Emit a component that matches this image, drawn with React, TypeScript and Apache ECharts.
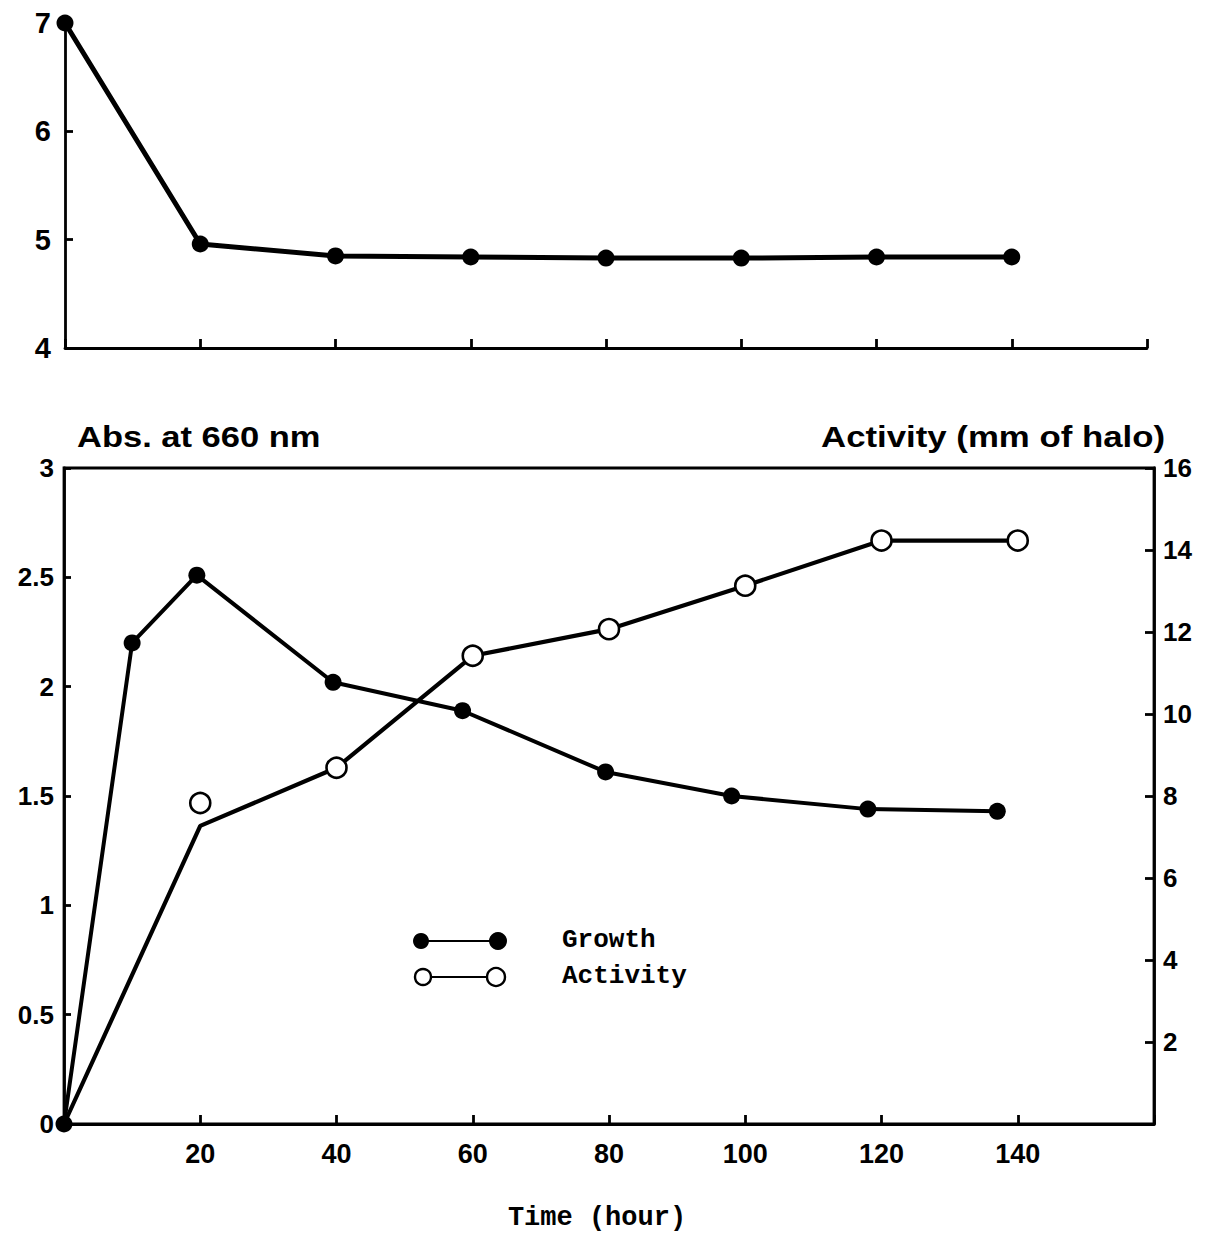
import React, { useEffect, useRef } from "react";
import * as echarts from "echarts";

// Top panel (pH-like trace)
const topTime = [0, 20, 40, 60, 80, 100, 120, 140];
const topValues = [7, 4.96, 4.85, 4.84, 4.83, 4.83, 4.84, 4.84];

// Bottom panel: growth (Abs. at 660 nm)
const growthTime = [0, 10, 19.5, 39.5, 58.5, 79.5, 98, 118, 137];
const growthAbs = [0, 2.2, 2.51, 2.02, 1.89, 1.61, 1.5, 1.44, 1.43];

// Bottom panel: activity (mm of halo) – drawn line and measured circles
const activityLineTime = [0, 20, 40, 60, 80, 100, 120, 140];
const activityLineValue = [0, 7.27, 8.69, 11.42, 12.07, 13.13, 14.23, 14.23];
const activityPointTime = [20, 40, 60, 80, 100, 120, 140];
const activityPointValue = [7.83, 8.69, 11.42, 12.07, 13.13, 14.23, 14.23];

const xHiddenLabels = [0, 160];

const zip = (a: number[], b: number[]) => a.map((v, i) => [v, b[i]]);

const SANS = '"Liberation Sans", Arial, sans-serif';
const MONO = '"Liberation Mono", "DejaVu Sans Mono", monospace';

export default function App() {
  const ref = useRef<HTMLDivElement>(null);

  useEffect(() => {
    document.body.style.margin = "0";
    const chart = echarts.init(ref.current!, null, { renderer: "svg" });

    const axisLine = { show: true, lineStyle: { color: "#000", width: 2.8 } };
    const tick = (len: number) => ({
      show: true,
      inside: true,
      length: len,
      lineStyle: { color: "#000", width: 2.8 },
    });
    const yLabel = {
      color: "#000",
      fontFamily: SANS,
      fontWeight: "bold" as const,
      fontSize: 26,
    };

    chart.setOption({
      animation: false,
      backgroundColor: "#fff",
      grid: [
        { left: 65, top: 23, width: 1082, height: 325, show: false },
        {
          left: 64,
          top: 468,
          width: 1090,
          height: 666,
          show: true,
          borderColor: "#000",
          borderWidth: 2.8,
        },
      ],
      xAxis: [
        {
          gridIndex: 0,
          type: "value",
          min: 0,
          max: 160,
          interval: 20,
          axisLine,
          axisTick: tick(9),
          axisLabel: { show: false },
          splitLine: { show: false },
        },
        {
          gridIndex: 1,
          type: "value",
          min: 0,
          max: 160,
          interval: 20,
          axisLine,
          axisTick: tick(9),
          axisLabel: {
            color: "#000",
            fontFamily: SANS,
            fontWeight: "bold",
            fontSize: 27,
            margin: 16,
            formatter: (v: number) => (xHiddenLabels.includes(v) ? "" : String(v)),
          },
          splitLine: { show: false },
          name: "Time (hour)",
          nameLocation: "middle",
          nameGap: 80,
          nameTextStyle: {
            color: "#000",
            fontFamily: MONO,
            fontWeight: "bold",
            fontSize: 27,
            padding: [0, 24, 0, 0],
          },
        },
      ],
      yAxis: [
        {
          gridIndex: 0,
          type: "value",
          min: 4,
          max: 7,
          interval: 1,
          axisLine,
          axisTick: tick(8),
          axisLabel: { ...yLabel, fontSize: 29, margin: 14 },
          splitLine: { show: false },
        },
        {
          gridIndex: 1,
          type: "value",
          min: 0,
          max: 3,
          interval: 0.5,
          axisLine,
          axisTick: tick(7),
          axisLabel: { ...yLabel, margin: 10 },
          splitLine: { show: false },
        },
        {
          gridIndex: 1,
          type: "value",
          position: "right",
          min: 0,
          max: 16,
          interval: 2,
          axisLine,
          axisTick: tick(9),
          axisLabel: {
            ...yLabel,
            margin: 9,
            formatter: (v: number) => (v === 0 ? "" : String(v)),
          },
          splitLine: { show: false },
        },
      ],
      series: [
        {
          type: "line",
          xAxisIndex: 0,
          yAxisIndex: 0,
          data: zip(topTime, topValues),
          symbol: "circle",
          symbolSize: 17,
          itemStyle: { color: "#000" },
          lineStyle: { color: "#000", width: 5 },
          z: 3,
        },
        {
          type: "line",
          name: "Activity",
          xAxisIndex: 1,
          yAxisIndex: 2,
          data: zip(activityLineTime, activityLineValue),
          symbol: "none",
          lineStyle: { color: "#000", width: 4.2 },
          z: 2,
        },
        {
          type: "line",
          name: "Growth",
          xAxisIndex: 1,
          yAxisIndex: 1,
          data: zip(growthTime, growthAbs),
          symbol: "circle",
          symbolSize: 17,
          itemStyle: { color: "#000" },
          lineStyle: { color: "#000", width: 4 },
          z: 3,
        },
        {
          type: "scatter",
          name: "Activity points",
          xAxisIndex: 1,
          yAxisIndex: 2,
          data: zip(activityPointTime, activityPointValue),
          symbol: "circle",
          symbolSize: 20,
          itemStyle: { color: "#fff", borderColor: "#000", borderWidth: 2.6, opacity: 1 },
          z: 4,
        },
      ],
      graphic: [
        {
          type: "text",
          x: 77,
          y: 437,
          scaleX: 1.15,
          style: {
            text: "Abs. at 660 nm",
            font: `bold 30px ${SANS}`,
            fill: "#000",
            align: "left",
            verticalAlign: "middle",
          },
        },
        {
          type: "text",
          x: 1165,
          y: 437,
          scaleX: 1.16,
          style: {
            text: "Activity (mm of halo)",
            font: `bold 30px ${SANS}`,
            fill: "#000",
            align: "right",
            verticalAlign: "middle",
          },
        },
        {
          type: "line",
          shape: { x1: 421, y1: 941, x2: 498, y2: 941 },
          style: { stroke: "#000", lineWidth: 2.2 },
        },
        { type: "circle", shape: { cx: 421, cy: 941, r: 8 }, style: { fill: "#000" } },
        { type: "circle", shape: { cx: 498, cy: 941, r: 9 }, style: { fill: "#000" } },
        {
          type: "line",
          shape: { x1: 423, y1: 977, x2: 496, y2: 977 },
          style: { stroke: "#000", lineWidth: 2.2 },
        },
        {
          type: "circle",
          shape: { cx: 423, cy: 977, r: 8 },
          style: { fill: "#fff", stroke: "#000", lineWidth: 2.4 },
        },
        {
          type: "circle",
          shape: { cx: 496, cy: 977, r: 9 },
          style: { fill: "#fff", stroke: "#000", lineWidth: 2.4 },
        },
        {
          type: "text",
          x: 562,
          y: 940,
          style: {
            text: "Growth",
            font: `bold 26px ${MONO}`,
            fill: "#000",
            align: "left",
            verticalAlign: "middle",
          },
        },
        {
          type: "text",
          x: 562,
          y: 976,
          style: {
            text: "Activity",
            font: `bold 26px ${MONO}`,
            fill: "#000",
            align: "left",
            verticalAlign: "middle",
          },
        },
      ],
    });

    return () => chart.dispose();
  }, []);

  return (
    <div
      ref={ref}
      style={{ position: "absolute", left: 0, top: 0, width: 1207, height: 1236 }}
    />
  );
}
